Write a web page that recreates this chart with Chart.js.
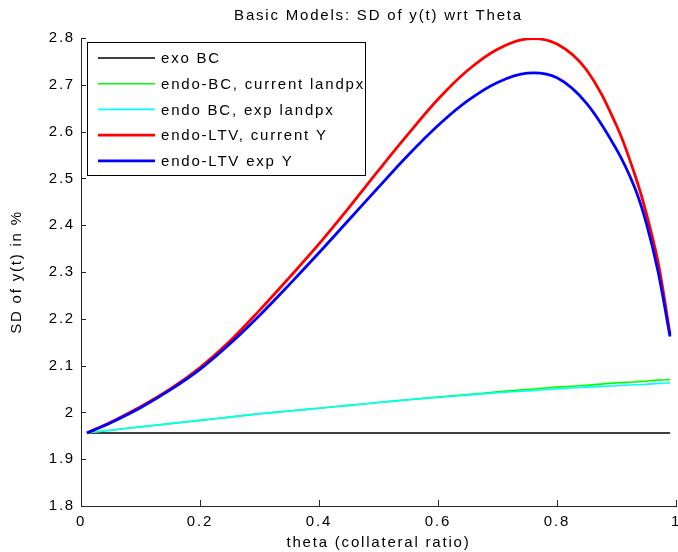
<!DOCTYPE html>
<html><head><meta charset="utf-8">
<script src="https://cdn.jsdelivr.net/npm/chart.js@4.4.0/dist/chart.umd.min.js"></script>
<style>html,body{margin:0;padding:0;background:#fff;} #wrap{width:678px;height:552px;position:relative;}</style>
</head><body><div id="wrap"><canvas id="c" width="678" height="552"></canvas></div>
<script>
const chartTitle = 'Basic Models: SD of y(t) wrt Theta';
const xAxisTitle = 'theta (collateral ratio)';
const yAxisTitle = 'SD of y(t) in %';

const thetaValues = [0.01,0.05,0.1,0.15,0.2,0.25,0.3,0.35,0.4,0.45,0.5,0.55,0.6,0.65,0.7,0.75,0.8,0.85,0.9,0.93,0.95,0.97,0.99];
const exoBC      = [1.956,1.956,1.956,1.956,1.956,1.956,1.956,1.956,1.956,1.956,1.956,1.956,1.956,1.956,1.956,1.956,1.956,1.956,1.956,1.956,1.956,1.956,1.956];
const endoBCcur  = [1.956,1.962,1.969,1.976,1.983,1.990,1.997,2.003,2.009,2.015,2.021,2.027,2.033,2.038,2.044,2.049,2.054,2.058,2.063,2.065,2.067,2.069,2.070];
const endoBCexp  = [1.956,1.962,1.969,1.976,1.983,1.990,1.997,2.003,2.009,2.015,2.021,2.027,2.032,2.037,2.042,2.046,2.050,2.054,2.057,2.059,2.060,2.062,2.063];
const endoLTVcur = [1.956,1.979,2.012,2.050,2.096,2.152,2.218,2.288,2.360,2.437,2.517,2.595,2.669,2.731,2.776,2.798,2.787,2.731,2.613,2.511,2.426,2.320,2.167];
const endoLTVexp = [1.956,1.978,2.010,2.048,2.092,2.146,2.207,2.273,2.341,2.411,2.481,2.550,2.613,2.666,2.705,2.725,2.715,2.660,2.562,2.482,2.405,2.300,2.162];

const seriesNames = ['exo BC','endo-BC, current landpx','endo BC, exp landpx','endo-LTV, current Y','endo-LTV exp Y'];
const seriesColors = ['#000000','#00ff00','#00ffff','#ff0000','#0000ff'];
const seriesWidths = [1.3,1.6,1.6,2.8,2.8];

const xTickValues = [0,0.2,0.4,0.6,0.8,1];
const xTickLabels = ['0','0.2','0.4','0.6','0.8','1'];
const yTickValues = [1.8,1.9,2.0,2.1,2.2,2.3,2.4,2.5,2.6,2.7,2.8];
const yTickLabels = ['1.8','1.9','2','2.1','2.2','2.3','2.4','2.5','2.6','2.7','2.8'];

const allSeries = [exoBC,endoBCcur,endoBCexp,endoLTVcur,endoLTVexp];
const LS = '1.8px';
const FONT = '"Liberation Sans", Arial, Helvetica, sans-serif';

const spacingPlugin = {
  id: 'spacing',
  beforeUpdate(chart){ chart.ctx.letterSpacing = LS; },
  beforeLayout(chart){ chart.ctx.letterSpacing = LS; },
  beforeDraw(chart){ chart.ctx.letterSpacing = LS; }
};

const tickPlugin = {
  id: 'inTicks',
  afterDraw(chart){
    const {ctx, chartArea:a, scales:{x, y}} = chart;
    ctx.save();
    ctx.strokeStyle = '#262626'; ctx.lineWidth = 1;
    ctx.beginPath();
    y.ticks.forEach(t => { const py = Math.round(y.getPixelForValue(t.value)) + 0.5; ctx.moveTo(a.left, py); ctx.lineTo(a.left + 5, py); });
    x.ticks.forEach(t => { const px = Math.round(x.getPixelForValue(t.value)) + 0.5; ctx.moveTo(px, a.bottom); ctx.lineTo(px, a.bottom - 6); });
    ctx.stroke();
    ctx.restore();
  }
};

const legendPlugin = {
  id: 'boxLegend',
  afterDraw(chart){
    const ctx = chart.ctx;
    const bx = 87.5, by = 42.5, bw = 278, bh = 133;
    ctx.save();
    ctx.fillStyle = '#fff';
    ctx.fillRect(bx, by, bw, bh);
    ctx.strokeStyle = '#000'; ctx.lineWidth = 1;
    ctx.strokeRect(bx, by, bw, bh);
    ctx.font = '15px ' + FONT;
    ctx.letterSpacing = LS;
    ctx.textBaseline = 'middle';
    ctx.textAlign = 'left';
    chart.data.datasets.forEach((ds, i) => {
      const ry = 58 + i * 25.7;
      ctx.strokeStyle = ds.borderColor; ctx.lineWidth = ds.borderWidth;
      ctx.beginPath(); ctx.moveTo(98, ry); ctx.lineTo(155, ry); ctx.stroke();
      ctx.fillStyle = '#000';
      ctx.fillText(ds.label, 161, ry + 1);
    });
    ctx.restore();
  }
};

Chart.defaults.font.family = FONT;
Chart.defaults.font.size = 15;
Chart.defaults.color = '#000';

new Chart(document.getElementById('c'), {
  type: 'line',
  data: {
    datasets: allSeries.map((arr, i) => ({
      label: seriesNames[i],
      data: thetaValues.map((t, k) => ({x: t, y: arr[k]})),
      borderColor: seriesColors[i],
      backgroundColor: seriesColors[i],
      borderWidth: seriesWidths[i],
      pointRadius: 0,
      fill: false,
      tension: 0.35,
      borderJoinStyle: 'round',
      order: allSeries.length - i
    }))
  },
  options: {
    responsive: false,
    animation: false,
    devicePixelRatio: 1,
    layout: { padding: { left: 0, right: 2, top: 0, bottom: 0 } },
    plugins: {
      legend: { display: false },
      tooltip: { enabled: false },
      title: { display: true, fullSize: false, text: chartTitle, font: { size: 15, weight: 'normal' }, color: '#000', padding: { top: 7, bottom: 13 } }
    },
    scales: {
      x: {
        type: 'linear', min: 0, max: 1,
        afterBuildTicks: s => { s.ticks = xTickValues.map(v => ({value: v})); },
        afterFit: s => { s.height = 46; s.paddingRight = 0; s.paddingLeft = 0; },
        grid: { display: false, drawTicks: false },
        border: { display: true, color: '#262626', width: 1 },
        ticks: { callback: (v, i) => xTickLabels[i], padding: 7, maxRotation: 0, autoSkip: false, color: '#000' },
        title: { display: true, text: xAxisTitle, padding: { top: 0, bottom: 0 }, color: '#000' }
      },
      y: {
        type: 'linear', min: 1.8, max: 2.8,
        afterBuildTicks: s => { s.ticks = yTickValues.map(v => ({value: v})); },
        afterFit: s => { s.width = 81; },
        grid: { display: false, drawTicks: false },
        border: { display: true, color: '#262626', width: 1 },
        ticks: { callback: (v, i) => yTickLabels[i], padding: 6, autoSkip: false, color: '#000' },
        title: { display: true, text: yAxisTitle, padding: { top: 8, bottom: 8 }, color: '#000' }
      }
    }
  },
  plugins: [spacingPlugin, tickPlugin, legendPlugin]
});
</script></body></html>
